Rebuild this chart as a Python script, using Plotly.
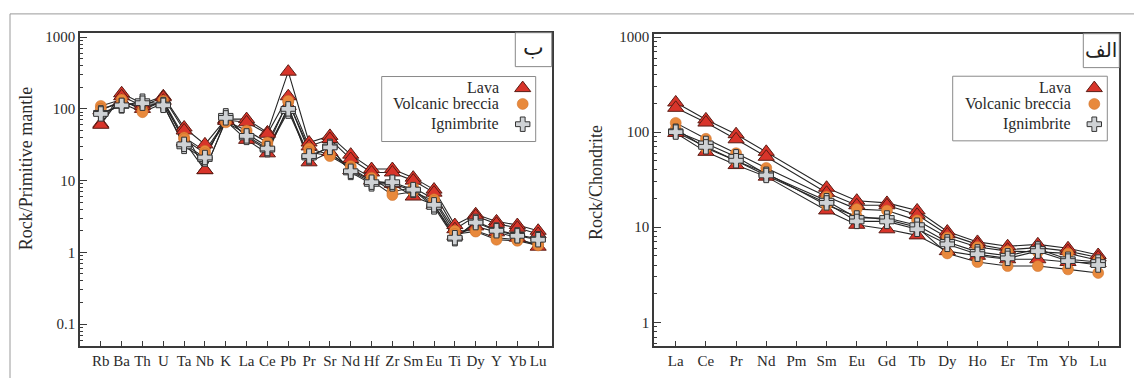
import plotly.graph_objects as go

W, H = 1134, 378

# ---------------- Data: primitive-mantle normalised spider (left panel) ----------------
pm_elements = ["Rb", "Ba", "Th", "U", "Ta", "Nb", "K", "La", "Ce", "Pb", "Pr",
               "Sr", "Nd", "Hf", "Zr", "Sm", "Eu", "Ti", "Dy", "Y", "Yb", "Lu"]

pm_lava_1 = [62, 165, 118, 150, 55, 32, 72, 72, 47, 330, 34, 42, 23, 14.5, 14.5, 11, 7.5, 2.4, 3.4, 2.7, 2.4, 2.0]
pm_lava_2 = [60, 150, 110, 145, 50, 14, 70, 65, 45, 150, 30, 38, 20, 13, 13, 10, 6.8, 2.1, 3.2, 2.5, 2.2, 1.8]
pm_lava_3 = [95, 130, 100, 130, 35, 14, 68, 37, 24, 110, 18, 25, 14, 10, 9, 6, 4.6, 1.7, 2.3, 1.9, 1.6, 1.2]
pm_breccia_1 = [110, 135, 95, 130, 40, 26, 68, 50, 34, 125, 28, 23, 16, 11, 7, 8, 5.5, 2.0, 2.0, 1.6, 1.5, 1.3]
pm_breccia_2 = [100, 120, 90, 120, 38, 24, 65, 45, 30, 130, 25, 22, 15, 10, 6.3, 7, 5.2, 1.8, 1.95, 1.5, 1.45, 1.25]
pm_ign_1 = [88, 110, 128, 115, 30, 20, 80, 40, 27, 93, 21, 30, 13, 9, 9, 7.3, 4.3, 1.55, 2.7, 2.05, 1.75, 1.55]
pm_ign_2 = [85, 112, 120, 112, 32, 21, 75, 42, 28, 100, 22, 29, 13.5, 9.5, 9.5, 7.5, 4.6, 1.6, 2.6, 2.0, 1.7, 1.5]

# ---------------- Data: chondrite normalised REE (right panel) ----------------
ree_elements = ["La", "Ce", "Pr", "Nd", "Pm", "Sm", "Eu", "Gd", "Tb", "Dy", "Ho", "Er", "Tm", "Yb", "Lu"]

ree_lava_1 = [205, 136, 95, 62, None, 26, 19, 18, 15, 9.0, 7.0, 6.3, 6.6, 6.0, 5.1]
ree_lava_2 = [180, 126, 84, 55, None, 23, 17, 17, 13.5, 8.4, 6.6, 5.8, 6.1, 5.6, 4.8]
ree_lava_3 = [98, 62, 45, 34, None, 15, 10.6, 9.5, 8.2, 5.6, 5.0, 4.6, 4.6, 4.3, 4.2]
ree_breccia_1 = [125, 85, 60, 42, None, 21, 15.5, 15, 11.8, 7.8, 6.2, 5.6, 5.5, 5.3, 4.5]
ree_breccia_2 = [108, 68, 50, 37, None, 17, 13, 12, 10, 5.3, 4.3, 3.9, 3.9, 3.6, 3.3]
ree_ign_1 = [102, 76, 55, 36, None, 19, 12.5, 12.5, 10.5, 7.0, 5.5, 5.0, 5.9, 4.6, 4.3]
ree_ign_2 = [100, 70, 50, 35, None, 18, 11.5, 11.5, 9.5, 6.6, 5.2, 4.7, 5.6, 4.4, 4.0]

legend_labels = ["Lava", "Volcanic breccia", "Ignimbrite"]
y_tick_vals = [0.1, 1, 10, 100, 1000]
y_tick_text = ["0.1", "1", "10", "100", "1000"]

# ---------------- Styles ----------------
LINE_COL = "#262626"
AX_COL = "#3a3a3a"
TXT_COL = "#2a2a2a"
SERIF = "Liberation Serif, Times New Roman, serif"

styles = {
    "Lava": dict(symbol="triangle-up", size=14, color="#d8342a", line=dict(color="#5a1c14", width=1)),
    "Volcanic breccia": dict(symbol="circle", size=11, color="#e8893c", line=dict(color="#c96a25", width=0.5)),
    "Ignimbrite": dict(symbol="cross", size=12, color="#cfd2d5", line=dict(color="#333333", width=1)),
}

pm_groups = {
    "Lava": [pm_lava_1, pm_lava_2, pm_lava_3],
    "Volcanic breccia": [pm_breccia_1, pm_breccia_2],
    "Ignimbrite": [pm_ign_1, pm_ign_2],
}
ree_groups = {
    "Lava": [ree_lava_1, ree_lava_2, ree_lava_3],
    "Volcanic breccia": [ree_breccia_1, ree_breccia_2],
    "Ignimbrite": [ree_ign_1, ree_ign_2],
}

fig = go.Figure()


def add_panel(cats, groups, xa, ya):
    # lines first
    for name, samples in groups.items():
        for s in samples:
            fig.add_trace(go.Scatter(x=cats, y=s, mode="lines", connectgaps=True,
                                     line=dict(color=LINE_COL, width=1.1),
                                     xaxis=xa, yaxis=ya, showlegend=False, hoverinfo="skip"))
    # markers on top
    for name, samples in groups.items():
        for s in samples:
            fig.add_trace(go.Scatter(x=cats, y=s, mode="markers", marker=styles[name],
                                     xaxis=xa, yaxis=ya, showlegend=False, name=name))


add_panel(pm_elements, pm_groups, "x", "y")
add_panel(ree_elements, ree_groups, "x2", "y2")

# ---------------- Legend keys on a hidden pixel-space overlay axis ----------------
legend_key_y = [85, 101, 121.5]
for i, name in enumerate(legend_labels):
    for kx in (522.7, 1094.3):
        fig.add_trace(go.Scatter(x=[kx], y=[legend_key_y[i]], mode="markers",
                                 marker=styles[name], xaxis="x3", yaxis="y3",
                                 showlegend=False, hoverinfo="skip"))


def px_x(v):
    return v / W


def px_y(v):
    return 1 - v / H


minor_vals = [k * 10 ** e for e in range(-2, 4) for k in range(2, 10)]

common_y = dict(type="log", tickmode="array", tickvals=y_tick_vals, ticktext=y_tick_text,
                ticks="inside", ticklen=7, tickwidth=1, tickcolor=AX_COL,
                showline=True, linecolor=AX_COL, linewidth=1.6, mirror=True,
                showgrid=False, zeroline=False,
                minor=dict(ticks="inside", ticklen=3, tickcolor=AX_COL, tickmode="array",
                           tickvals=minor_vals, showgrid=False),
                tickfont=dict(family=SERIF, size=15, color=TXT_COL))
common_x = dict(type="category", ticks="inside", ticklen=5, tickwidth=1, tickcolor=AX_COL,
                showline=True, linecolor=AX_COL, linewidth=1.6, mirror=True,
                showgrid=False, zeroline=False,
                tickfont=dict(family=SERIF, size=15, color=TXT_COL))

fig.update_layout(
    width=W, height=H,
    margin=dict(l=0, r=0, t=0, b=0),
    paper_bgcolor="white", plot_bgcolor="rgba(0,0,0,0)",
    showlegend=False,
    xaxis=dict(common_x, domain=[px_x(80), px_x(551.7)], range=[-1.0, 21.65],
               categoryorder="array", categoryarray=pm_elements, anchor="y"),
    yaxis=dict(common_y, domain=[px_y(345.7), px_y(29)], range=[-1.306, 3.062], anchor="x"),
    xaxis2=dict(common_x, domain=[px_x(654), px_x(1119.3)], range=[-0.72, 14.70],
                categoryorder="array", categoryarray=ree_elements, anchor="y2"),
    yaxis2=dict(common_y, domain=[px_y(345.7), px_y(30)], range=[-0.25, 3.035], anchor="x2"),
    xaxis3=dict(domain=[0, 1], range=[0, W], visible=False, anchor="y3", fixedrange=True),
    yaxis3=dict(domain=[0, 1], range=[H, 0], visible=False, anchor="x3", fixedrange=True),
)

shapes = []
# outer frame (top and left)
shapes.append(dict(type="line", xref="paper", yref="paper", x0=px_x(10), x1=1, y0=px_y(10), y1=px_y(10),
                   line=dict(color="#9a9a9a", width=1)))
shapes.append(dict(type="line", xref="paper", yref="paper", x0=px_x(10), x1=px_x(10), y0=px_y(10), y1=0,
                   line=dict(color="#9a9a9a", width=1)))
# legend boxes
for (x0, x1, y0, y1) in [(381.7, 535.7, 73.3, 139), (952.7, 1107.3, 73, 138.3)]:
    shapes.append(dict(type="rect", xref="paper", yref="paper", x0=px_x(x0), x1=px_x(x1),
                       y0=px_y(y1), y1=px_y(y0), line=dict(color="#8a8a8a", width=1)))
# corner label boxes
for (x0, x1, y0, y1) in [(515.3, 551.7, 29, 63.3), (1083.3, 1119.3, 30, 64.3)]:
    shapes.append(dict(type="rect", xref="paper", yref="paper", x0=px_x(x0), x1=px_x(x1),
                       y0=px_y(y1), y1=px_y(y0), line=dict(color="#888888", width=1)))

annotations = []
# legend texts (right-aligned)
for right_edge in (500.7, 1072.7):
    for i, name in enumerate(legend_labels):
        annotations.append(dict(xref="paper", yref="paper", x=px_x(right_edge), y=px_y(legend_key_y[i] - 0.5),
                                xanchor="right", yanchor="middle", showarrow=False, text=name,
                                font=dict(family=SERIF, size=16, color=TXT_COL)))
# corner labels
annotations.append(dict(xref="paper", yref="paper", x=px_x(533.7), y=px_y(44), xanchor="center",
                        yanchor="middle", showarrow=False, text="ب",
                        font=dict(family="DejaVu Sans", size=22, color="#222")))
annotations.append(dict(xref="paper", yref="paper", x=px_x(1101.3), y=px_y(46), xanchor="center",
                        yanchor="middle", showarrow=False, text="الف",
                        font=dict(family="DejaVu Sans", size=20, color="#222")))
# axis titles
annotations.append(dict(xref="paper", yref="paper", x=px_x(26), y=px_y(167), xanchor="center",
                        yanchor="middle", showarrow=False, text="Rock/Primitive mantle", textangle=-90,
                        font=dict(family=SERIF, size=18, color=TXT_COL)))
annotations.append(dict(xref="paper", yref="paper", x=px_x(596), y=px_y(181), xanchor="center",
                        yanchor="middle", showarrow=False, text="Rock/Chondrite", textangle=-90,
                        font=dict(family=SERIF, size=18, color=TXT_COL)))

fig.update_layout(shapes=shapes, annotations=annotations)

fig.write_html("out.html", config={"displayModeBar": False})

# remove default page margin so the figure sits at the window origin
with open("out.html", "r", encoding="utf-8") as f:
    html = f.read()
html = html.replace("<head>", "<head><style>html,body{margin:0;padding:0;overflow:hidden;}</style>", 1)
with open("out.html", "w", encoding="utf-8") as f:
    f.write(html)
